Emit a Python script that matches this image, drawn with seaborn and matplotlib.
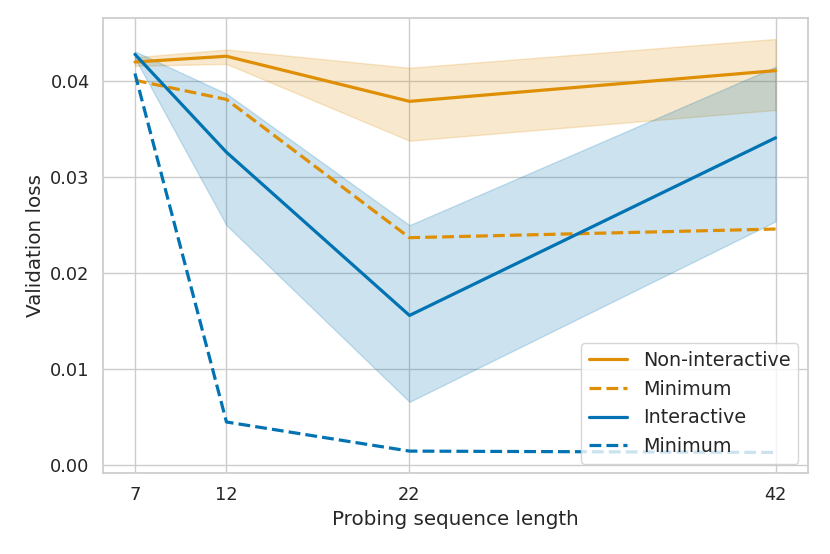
import numpy as np
import pandas as pd
import matplotlib
matplotlib.use("Agg")
import matplotlib.pyplot as plt
import seaborn as sns

# Values
seq_len = [7, 12, 22, 42]

nonint_mean = [0.0420, 0.0426, 0.0379, 0.0411]
nonint_low = [0.0416, 0.0418, 0.0338, 0.0370]
nonint_high = [0.0425, 0.0433, 0.0414, 0.0444]
nonint_min = [0.0401, 0.0381, 0.0237, 0.0246]

int_mean = [0.0428, 0.0326, 0.0156, 0.0341]
int_low = [0.0424, 0.0250, 0.0066, 0.0254]
int_high = [0.0431, 0.0387, 0.0250, 0.0415]
int_min = [0.0408, 0.0045, 0.00147, 0.00133]

sns.set_theme(style="whitegrid", font_scale=1.15)
pal = sns.color_palette("colorblind")
blue, orange = pal[0], pal[1]

fig, ax = plt.subplots(figsize=(8.3, 5.54), dpi=100)

ax.fill_between(seq_len, nonint_low, nonint_high, color=orange, alpha=0.2)
sns.lineplot(x=seq_len, y=nonint_mean, color=orange, lw=2.3, label="Non-interactive", ax=ax)
sns.lineplot(x=seq_len, y=nonint_min, color=orange, lw=2.3, linestyle="--", label="Minimum", ax=ax)

ax.fill_between(seq_len, int_low, int_high, color=blue, alpha=0.2)
sns.lineplot(x=seq_len, y=int_mean, color=blue, lw=2.3, label="Interactive", ax=ax)
sns.lineplot(x=seq_len, y=int_min, color=blue, lw=2.3, linestyle="--", label="Minimum", ax=ax)

ax.set_xticks(seq_len)
ax.set_yticks([0.0, 0.01, 0.02, 0.03, 0.04])
ax.set_yticklabels(["0.00", "0.01", "0.02", "0.03", "0.04"])
ax.tick_params(labelsize=12.8)
ax.set_xlabel("Probing sequence length", fontsize=14.3)
ax.set_ylabel("Validation loss", fontsize=14.3)
ax.legend(loc="lower right", fontsize=13.8)

# Match the reference's axes placement
plt.subplots_adjust(left=0.124, right=0.973, top=0.967, bottom=0.146)
plt.savefig("out.png")
